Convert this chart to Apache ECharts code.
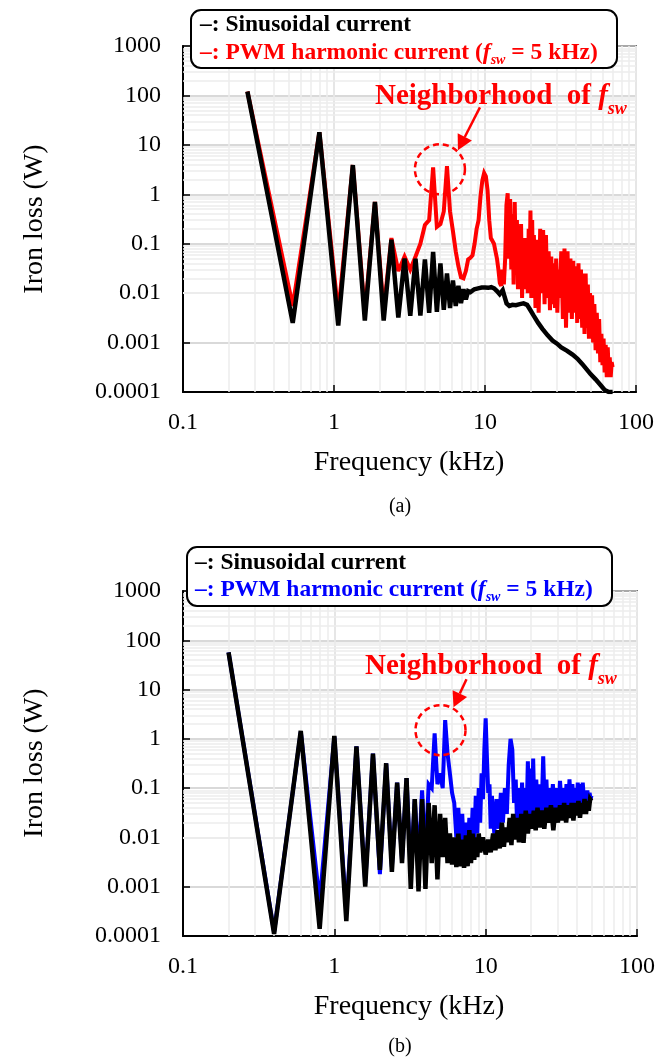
<!DOCTYPE html>
<html>
<head>
<meta charset="utf-8">
<title>Iron loss spectrum</title>
<script src="https://cdn.jsdelivr.net/npm/echarts@6/dist/echarts.min.js"></script>
<style>
html, body { margin: 0; padding: 0; background: #fff; }
#main { width: 671px; height: 1059px; }
</style>
</head>
<body>
<div id="main"></div>
<script>
// (a) harmonics of ~266.7 Hz
var freqSinA = [
  0.267, 0.533, 0.8, 1.067, 1.333, 1.6, 1.867, 2.133, 2.4, 2.667,
  2.933, 3.2, 3.467, 3.733, 4.0, 4.267, 4.533, 4.8, 5.067, 5.333,
  5.6, 5.867, 6.133, 6.4, 6.667, 6.933, 7.2, 7.467, 7.733, 8.0,
  8.5, 9.0, 9.5, 10.0, 10.5, 11.0, 11.5, 12.0, 12.5, 12.8,
  13.1, 13.4, 13.9, 14.5, 15.2, 16.0, 17.0, 18.0, 19.0, 20.0,
  21.0, 22.5, 24.0, 26.0, 28.0, 30.0, 32.0, 35.0, 38.0, 41.0,
  44.0, 47.0, 50.0, 54.0, 58.0, 62.0, 66.0, 70.0
];
var lossSinA = [
  120, 0.0025, 18, 0.0022, 3.9, 0.0028, 0.7, 0.0028, 0.12, 0.0032,
  0.05, 0.0035, 0.05, 0.0035, 0.048, 0.004, 0.068, 0.0042, 0.04, 0.0046,
  0.025, 0.005, 0.018, 0.0055, 0.014, 0.0063, 0.012, 0.0075, 0.011, 0.0105,
  0.012, 0.0125, 0.013, 0.013, 0.0128, 0.0132, 0.0125, 0.011, 0.0095, 0.0088,
  0.0115, 0.009, 0.0062, 0.0055, 0.0058, 0.0057, 0.006, 0.0062, 0.0058, 0.0045,
  0.0035, 0.0025, 0.0019, 0.0014, 0.0011, 0.00095, 0.0008, 0.00068, 0.00057, 0.00047,
  0.00037, 0.00029, 0.00023, 0.00018, 0.00014, 0.00011, 0.0001, 0.0001
];
var freqPwmA = [
  0.267, 0.533, 0.8, 1.067, 1.333, 1.6, 1.867, 2.133, 2.4, 2.667,
  2.933, 3.2, 3.467, 3.733, 4.0, 4.267, 4.533, 4.8, 5.067, 5.333,
  5.6, 5.867, 6.133, 6.4, 6.667, 6.933, 7.2, 7.467, 7.733, 8.0,
  8.267, 8.533, 8.8, 9.067, 9.333, 9.6, 9.867, 10.133, 10.4, 10.667,
  10.933, 11.2, 11.467, 11.733, 12.0, 12.267, 12.533, 12.8, 13.067, 13.333,
  13.6, 13.867, 14.133, 14.4, 14.667, 14.933, 15.2, 15.467, 15.733, 16.0,
  16.267, 16.533, 16.8, 17.067, 17.333, 17.6, 17.867, 18.133, 18.4, 18.667,
  18.933, 19.2, 19.467, 19.733, 20.0, 20.267, 20.533, 20.8, 21.067, 21.6,
  22.133, 22.667, 23.2, 23.733, 24.267, 24.8, 25.333, 25.867, 26.4, 26.933,
  27.467, 28.0, 28.533, 29.067, 29.6, 30.133, 30.667, 31.2, 32.0, 32.8,
  33.6, 34.4, 35.2, 36.0, 36.8, 37.6, 38.4, 39.2, 40.0, 40.8,
  41.6, 42.4, 43.2, 44.0, 44.8, 45.6, 46.4, 47.2, 48.0, 48.8,
  49.6, 50.4, 51.2, 52.0, 53.0, 54.0, 55.0, 56.0, 57.0, 58.0,
  59.0, 60.0, 61.0, 62.0, 63.0, 64.0, 65.0, 66.0, 67.0, 68.0,
  69.0, 70.0
];
var lossPwmA = [
  120, 0.0055, 18, 0.004, 3.9, 0.004, 0.7, 0.0045, 0.13, 0.028,
  0.055, 0.03, 0.055, 0.1, 0.24, 0.3, 3.5, 0.22, 0.25, 0.45,
  3.7, 0.45, 0.18, 0.07, 0.035, 0.021, 0.02, 0.028, 0.048, 0.052,
  0.058, 0.1, 0.2, 0.3, 0.9, 1.9, 2.7, 2.3, 1.2, 0.3,
  0.13, 0.12, 0.1, 0.07, 0.05, 0.03, 0.016, 0.014, 0.03, 0.015,
  0.05, 0.6, 1.05, 0.05, 0.8, 0.03, 0.4, 0.015, 0.7, 0.04,
  0.3, 0.012, 0.15, 0.02, 0.25, 0.008, 0.1, 0.012, 0.13, 0.03,
  0.06, 0.01, 0.2, 0.03, 0.47, 0.008, 0.3, 0.01, 0.15, 0.005,
  0.12, 0.004, 0.2, 0.01, 0.19, 0.006, 0.15, 0.008, 0.07, 0.0045,
  0.055, 0.006, 0.04, 0.005, 0.05, 0.004, 0.03, 0.008, 0.07, 0.003,
  0.08, 0.002, 0.07, 0.004, 0.05, 0.003, 0.045, 0.004, 0.035, 0.0025,
  0.04, 0.003, 0.03, 0.002, 0.025, 0.0015, 0.025, 0.002, 0.015, 0.0012,
  0.01, 0.0012, 0.009, 0.001, 0.006, 0.0007, 0.004, 0.0006, 0.003, 0.0004,
  0.0015, 0.00035, 0.0012, 0.00025, 0.0009, 0.0002, 0.0008, 0.00022, 0.0005, 0.0002,
  0.0004, 0.00032
];

// (b) harmonics of 200 Hz
var freqSinB = [
  0.2, 0.4, 0.6, 0.8, 1.0, 1.2, 1.4, 1.6, 1.8, 2.0,
  2.2, 2.4, 2.6, 2.8, 3.0, 3.2, 3.4, 3.6, 3.8, 4.0,
  4.2, 4.4, 4.6, 4.8, 5.0, 5.2, 5.4, 5.6, 5.8, 6.0,
  6.2, 6.4, 6.6, 6.8, 7.0, 7.2, 7.4, 7.6, 7.8, 8.0,
  8.2, 8.4, 8.6, 8.8, 9.0, 9.2, 9.6, 10.0, 10.4, 10.8,
  11.2, 11.6, 12.0, 12.4, 12.8, 13.2, 13.6, 14.0, 14.4, 14.8,
  15.2, 15.6, 16.0, 16.6, 17.2, 17.8, 18.4, 19.0, 19.6, 20.2,
  20.8, 21.4, 22.0, 22.8, 23.6, 24.4, 25.2, 26.0, 27.0, 28.0,
  29, 30, 31, 32, 33, 34, 35, 36, 37, 38,
  39, 40, 41, 42, 43, 44, 45, 46, 47, 48,
  49, 50
];
var lossSinB = [
  57, 0.00011, 1.45, 0.00014, 1.15, 0.0002, 0.7, 0.001, 0.5, 0.0022,
  0.32, 0.002, 0.13, 0.003, 0.16, 0.0009, 0.06, 0.0008, 0.06, 0.0009,
  0.05, 0.003, 0.045, 0.0014, 0.03, 0.004, 0.025, 0.003, 0.012, 0.0028,
  0.01, 0.0025, 0.012, 0.0026, 0.009, 0.0024, 0.011, 0.0026, 0.014, 0.003,
  0.012, 0.0035, 0.01, 0.004, 0.012, 0.005, 0.01, 0.0045, 0.009, 0.005,
  0.012, 0.0055, 0.014, 0.006, 0.02, 0.0065, 0.016, 0.008, 0.025, 0.007,
  0.03, 0.009, 0.025, 0.008, 0.03, 0.0078, 0.035, 0.012, 0.03, 0.015,
  0.035, 0.014, 0.04, 0.016, 0.035, 0.015, 0.04, 0.02, 0.045, 0.014,
  0.04, 0.02, 0.045, 0.022, 0.05, 0.02, 0.045, 0.025, 0.05, 0.022,
  0.05, 0.028, 0.055, 0.025, 0.05, 0.03, 0.06, 0.03, 0.055, 0.035,
  0.06, 0.055
];
var freqPwmB = [
  0.2, 0.4, 0.6, 0.8, 1.0, 1.2, 1.4, 1.6, 1.8, 2.0,
  2.2, 2.4, 2.6, 2.8, 3.0, 3.2, 3.4, 3.6, 3.8, 4.0,
  4.2, 4.4, 4.6, 4.8, 5.0, 5.2, 5.4, 5.6, 5.8, 6.0,
  6.2, 6.4, 6.6, 6.8, 7.0, 7.2, 7.4, 7.6, 7.8, 8.0,
  8.2, 8.4, 8.6, 8.8, 9.0, 9.2, 9.4, 9.6, 9.8, 10.0,
  10.2, 10.4, 10.6, 10.8, 11.0, 11.4, 11.8, 12.2, 12.6, 13.0,
  13.4, 13.8, 14.2, 14.6, 15.0, 15.4, 15.8, 16.2, 16.6, 17.0,
  17.4, 17.8, 18.2, 18.6, 19.0, 19.4, 19.8, 20.2, 20.6, 21.0,
  21.6, 22.2, 22.8, 23.4, 24.0, 24.6, 25.2, 25.8, 26.4, 27.0,
  27.8, 28.6, 29.4, 30.2, 31.0, 31.8, 32.6, 33.4, 34.2, 35.0,
  35.8, 36.6, 37.4, 38.2, 39.0, 39.8, 40.6, 41.4, 42.2, 43.0,
  43.8, 44.6, 45.4, 46.2, 47.0, 47.8, 48.6, 49.4, 50.0
];
var lossPwmB = [
  57, 0.00012, 1.4, 0.0005, 1.1, 0.0003, 0.7, 0.0012, 0.5, 0.0018,
  0.32, 0.0025, 0.13, 0.0035, 0.16, 0.002, 0.06, 0.003, 0.09, 0.004,
  0.12, 0.1, 1.3, 0.12, 0.2, 0.1, 2.4, 0.5, 0.2, 0.08,
  0.05, 0.01, 0.04, 0.004, 0.03, 0.005, 0.02, 0.004, 0.025, 0.006,
  0.04, 0.008, 0.07, 0.012, 0.1, 0.02, 0.2, 0.06, 0.6, 2.6,
  0.4, 0.08, 0.12, 0.015, 0.07, 0.012, 0.06, 0.015, 0.08, 0.02,
  0.1, 0.03, 0.3, 1.0, 0.6, 0.05, 0.15, 0.012, 0.1, 0.015,
  0.13, 0.01, 0.1, 0.02, 0.35, 0.03, 0.25, 0.02, 0.4, 0.03,
  0.15, 0.02, 0.12, 0.03, 0.44, 0.03, 0.15, 0.025, 0.1, 0.03,
  0.12, 0.035, 0.1, 0.03, 0.14, 0.04, 0.1, 0.035, 0.12, 0.04,
  0.15, 0.04, 0.12, 0.05, 0.1, 0.04, 0.13, 0.05, 0.12, 0.05,
  0.13, 0.06, 0.08, 0.05, 0.09, 0.05, 0.08, 0.06, 0.07
];

var xTickLabels = ['0.1', '1', '10', '100'];
var yTickLabels = ['0.0001', '0.001', '0.01', '0.1', '1', '10', '100', '1000'];
var seriesNames = ['Sinusoidal current', 'PWM harmonic current'];

var serif = "'Liberation Serif', 'Times New Roman', serif";

function pairs(xs, ys) {
  return xs.map(function (x, i) { return [x, ys[i]]; });
}

// minor log grid lines (2..9 in each decade)
var xMinor = [], yMinor = [];
[0.1, 1, 10].forEach(function (d) {
  for (var k = 2; k <= 9; k++) xMinor.push({ xAxis: +(k * d).toPrecision(3) });
});
[0.0001, 0.001, 0.01, 0.1, 1, 10, 100].forEach(function (d) {
  for (var k = 2; k <= 9; k++) yMinor.push({ yAxis: +(k * d).toPrecision(3) });
});

var grids = [
  { left: 183, top: 46, width: 453, height: 346 },
  { left: 183, top: 591, width: 454, height: 345 }
];

function xAxisFor(i) {
  return {
    type: 'log', logBase: 10, gridIndex: i, min: 0.1, max: 100, splitNumber: 3,
    axisLine: { show: true, onZero: false, lineStyle: { color: '#000', width: 2 } },
    axisTick: { show: true, inside: true, length: 7, lineStyle: { color: '#000', width: 1.5 } },
    axisLabel: {
      margin: 19, color: '#000', fontFamily: serif, fontSize: 24,
      formatter: function (v) { return xTickLabels[Math.round(Math.log10(v)) + 1]; }
    },
    splitLine: { show: true, lineStyle: { color: '#e6e6e6', width: 2 } }
  };
}
function yAxisFor(i) {
  return {
    type: 'log', logBase: 10, gridIndex: i, min: 0.0001, max: 1000, splitNumber: 7,
    axisLine: { show: true, onZero: false, lineStyle: { color: '#000', width: 2 } },
    axisTick: { show: true, inside: true, length: 7, lineStyle: { color: '#000', width: 1.5 } },
    axisLabel: {
      margin: 22, color: '#000', fontFamily: serif, fontSize: 24,
      formatter: function (v) { return yTickLabels[Math.round(Math.log10(v)) + 4]; }
    },
    splitLine: { show: true, lineStyle: { color: '#cccccc', width: 1.5 } }
  };
}

function gridLines(i) {
  return {
    type: 'line', xAxisIndex: i, yAxisIndex: i, data: [], silent: true, z: 1,
    markLine: {
      silent: true, z: 1, symbol: ['none', 'none'], animation: false,
      label: { show: false },
      lineStyle: { color: '#ececec', width: 1.5, type: 'solid' },
      emphasis: { disabled: true },
      data: xMinor.concat(yMinor)
    }
  };
}
function curve(i, name, xs, ys, color, width, z) {
  return {
    type: 'line', name: name, xAxisIndex: i, yAxisIndex: i, data: pairs(xs, ys),
    symbol: 'none', silent: true, z: z,
    lineStyle: { color: color, width: width, join: 'miter', miterLimit: 3 }
  };
}

var chart = echarts.init(document.getElementById('main'));
chart.setOption({
  animation: false,
  backgroundColor: '#fff',
  grid: grids.map(function (g) {
    return Object.assign({ show: true, borderColor: '#000', borderWidth: 1.5, backgroundColor: 'transparent' }, g);
  }),
  xAxis: [xAxisFor(0), xAxisFor(1)],
  yAxis: [yAxisFor(0), yAxisFor(1)],
  series: [
    gridLines(0), gridLines(1),
    curve(0, seriesNames[1], freqPwmA, lossPwmA, '#ff0000', 4, 3),
    curve(0, seriesNames[0], freqSinA, lossSinA, '#000000', 4.5, 4),
    curve(1, seriesNames[1], freqPwmB, lossPwmB, '#0000ff', 4, 3),
    curve(1, seriesNames[0], freqSinB, lossSinB, '#000000', 4.5, 4)
  ]
});

// rich text pieces for f_sw (main text hangs from the top of the line, "sw" sits on its bottom)
function fswRich(size, subSize, color, lh) {
  return {
    t: { fontFamily: serif, fontWeight: 'bold', fontSize: size, fill: color, lineHeight: lh, verticalAlign: 'top' },
    i: { fontFamily: serif, fontWeight: 'bold', fontStyle: 'italic', fontSize: size, fill: color, lineHeight: lh, verticalAlign: 'top' },
    s: { fontFamily: serif, fontWeight: 'bold', fontStyle: 'italic', fontSize: subSize, fill: color, lineHeight: lh, verticalAlign: 'bottom' }
  };
}

function legendBox(x, y, w, h, lineY1, lineY2, textX, color) {
  return [
    { type: 'rect', z: 100, shape: { x: x, y: y, width: w, height: h, r: 10 },
      style: { fill: '#fff', stroke: '#000', lineWidth: 2 } },
    { type: 'text', z: 101, x: textX, y: lineY1 - 12,
      style: { text: '{t|\u2013: ' + seriesNames[0] + '}', rich: fswRich(23.5, 14, '#000', 26) } },
    { type: 'text', z: 101, x: textX, y: lineY2 - 12,
      style: { text: '{t|\u2013: ' + seriesNames[1] + ' (}{i|f}{s|sw}{t| = 5 kHz)}', rich: fswRich(23.5, 14, color, 26) } }
  ];
}

function note(gridIndex, anchor, tailOff, tipOff, textX, textY) {
  var c = chart.convertToPixel({ gridIndex: gridIndex }, anchor);
  var tail = [c[0] + tailOff[0], c[1] + tailOff[1]];
  var tip = [c[0] + tipOff[0], c[1] + tipOff[1]];
  var dx = tip[0] - tail[0], dy = tip[1] - tail[1];
  var len = Math.sqrt(dx * dx + dy * dy);
  var ux = dx / len, uy = dy / len;
  var base = [tip[0] - ux * 15, tip[1] - uy * 15];
  var px = -uy * 8, py = ux * 8;
  return [
    { type: 'circle', z: 50, shape: { cx: c[0], cy: c[1], r: 25 },
      style: { fill: 'none', stroke: '#ff0000', lineWidth: 2.5, lineDash: [6, 4] } },
    { type: 'line', z: 50, shape: { x1: tail[0], y1: tail[1], x2: base[0], y2: base[1] },
      style: { stroke: '#ff0000', lineWidth: 2.5 } },
    { type: 'polygon', z: 50, shape: { points: [tip, [base[0] + px, base[1] + py], [base[0] - px, base[1] - py]] },
      style: { fill: '#ff0000' } },
    { type: 'text', z: 50, x: textX, y: textY - 15,
      style: { text: '{t|Neighborhood  of }{i|f}{s|sw}', rich: fswRich(29, 18, '#ff0000', 36) } }
  ];
}

function label(x, y, text, size, rot) {
  return { type: 'text', z: 20, x: x, y: y, rotation: rot || 0,
    style: { text: text, fontFamily: serif, fontSize: size, fill: '#000', align: 'center', verticalAlign: 'middle' } };
}

var graphics = []
  .concat(legendBox(191, 10, 426, 58, 25, 53, 200, '#ff0000'))
  .concat(legendBox(187, 547, 425, 59, 563, 590, 195, '#0000ff'))
  .concat(note(0, [5.03, 3.2], [40, -62], [18, -19], 375, 97))
  .concat(note(1, [5.03, 1.5], [26, -51], [13, -23], 365, 667))
  .concat([
    label(409, 463, 'Frequency (kHz)', 28),
    label(409, 1007, 'Frequency (kHz)', 28),
    label(35, 219, 'Iron loss (W)', 28, Math.PI / 2),
    label(35, 763, 'Iron loss (W)', 28, Math.PI / 2),
    label(400, 507, '(a)', 20),
    label(400, 1047, '(b)', 20)
  ]);

chart.setOption({ graphic: graphics });
</script>
</body>
</html>
